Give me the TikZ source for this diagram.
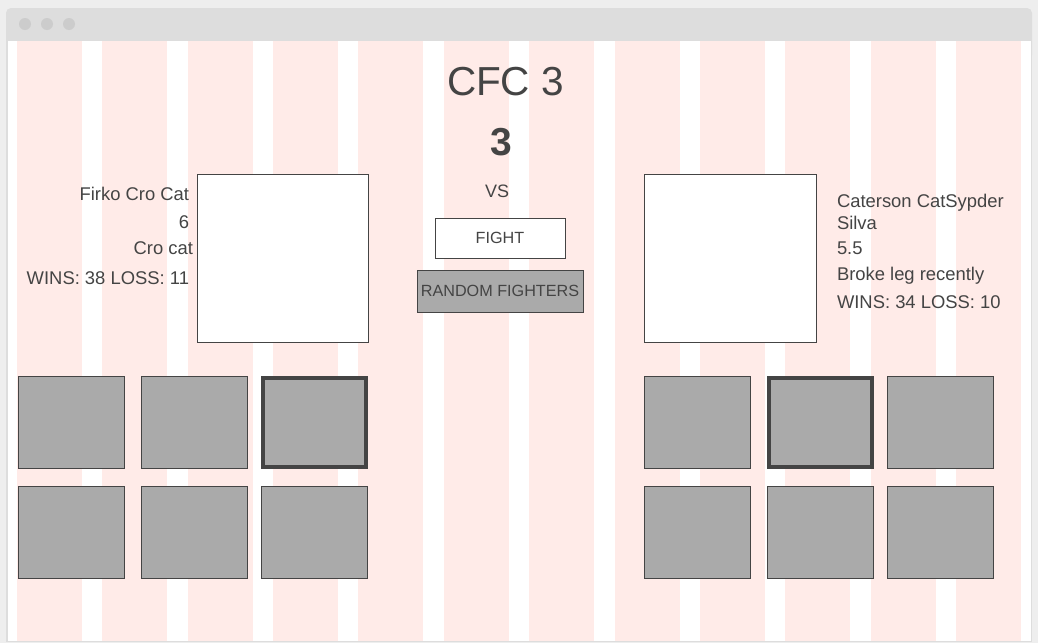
\documentclass[tikz,border=0pt]{standalone}
\usepackage{fontspec}
\setmainfont{Liberation Sans}
\usepackage{tikz}
\usetikzlibrary{positioning}

\definecolor{pagegray}{HTML}{EEEEEE}
\definecolor{bargray}{HTML}{DDDDDD}
\definecolor{dotgray}{HTML}{CCCCCC}
\definecolor{stripepink}{HTML}{FFEBE8}
\definecolor{inkgray}{HTML}{444444}
\definecolor{thumbgray}{HTML}{AAAAAA}

\begin{document}
\begin{tikzpicture}[x=1pt, y=-1pt, every node/.style={text=inkgray, inner sep=0pt, outer sep=0pt}]
  \tikzstyle{info}=[font=\fontsize{18.4}{21}\selectfont]
  \tikzstyle{portrait}=[draw=inkgray, fill=white, minimum width=171pt, minimum height=168pt]
  \tikzstyle{thumb}=[draw=inkgray, fill=thumbgray, minimum width=106pt, minimum height=92pt]
  \tikzstyle{picked}=[thumb, line width=4pt, minimum width=103pt, minimum height=89pt]
  \tikzstyle{button}=[draw=inkgray, minimum height=40pt, font=\fontsize{16.2}{19}\selectfont]

  \useasboundingbox[fill=pagegray] (0,0) rectangle (1038,643);

  % browser window
  \fill[bargray, rounded corners=5pt] (6,8) rectangle (1032,60);
  \fill[bargray] (6,30) rectangle (1032,642);
  \fill[white] (8,41) rectangle (1031,641);
  \foreach \x [count=\i] in {25,47,69} {
    \fill[dotgray] (\x,24) circle (6pt);
  }

  % layout grid
  \foreach \i in {0,...,11} {
    \fill[stripepink] ({17+85.36*\i},41) rectangle ++(65,600);
  }

  % heading
  \node (title) at (505.5,95) [anchor=base, font=\fontsize{40.5}{46}\selectfont] {CFC 3};
  \node (round) at (501.5,155) [anchor=base, font=\fontsize{39}{44}\selectfont\bfseries] {3};
  \node (vs) at (497,197) [anchor=base, font=\fontsize{18}{21}\selectfont] {VS};

  % buttons
  \node (fight) at (500,238) [button, fill=white, minimum width=130pt] {FIGHT};
  \node (random) at (500,291) [button, fill=thumbgray, minimum width=166pt, minimum height=42pt] {RANDOM FIGHTERS};

  % left fighter
  \node (lphoto) at (282.5,258) [portrait] {};
  \node (lname) at (189,200) [info, anchor=base east] {Firko Cro Cat};
  \node (lodds) at (189,228) [info, anchor=base east] {6};
  \node (lnick) at (193,254) [info, anchor=base east] {Cro cat};
  \node (lrecord) at (189,284) [info, anchor=base east] {WINS: 38 LOSS: 11};

  % right fighter
  \node (rphoto) at (730,258) [portrait, minimum width=172pt] {};
  \node (rname) at (837,207) [info, anchor=base west] {Caterson CatSypder};
  \node (rname2) at (837,229) [info, anchor=base west] {Silva};
  \node (rodds) at (837,254) [info, anchor=base west] {5.5};
  \node (rnote) at (837,280) [info, anchor=base west] {Broke leg recently};
  \node (rrecord) at (837,308) [info, anchor=base west] {WINS: 34 LOSS: 10};

  % fighter thumbnails
  \foreach \x [count=\i] in {71.5,194.5,314.5} {
    \node (lthumb\i) at (\x,422.5) [thumb] {};
    \node (lthumbb\i) at (\x,532) [thumb] {};
  }
  \node (lpick) at (lthumb3) [picked] {};
  \foreach \x [count=\i] in {697.5,820.5,940.5} {
    \node (rthumb\i) at (\x,422.5) [thumb] {};
    \node (rthumbb\i) at (\x,532) [thumb] {};
  }
  \node (rpick) at (rthumb2) [picked] {};
\end{tikzpicture}
\end{document}
